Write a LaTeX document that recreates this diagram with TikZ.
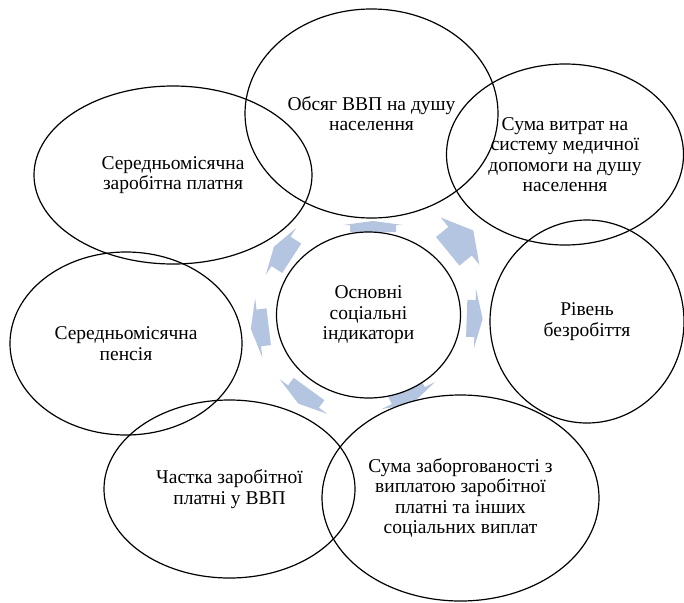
\documentclass[tikz,border=0pt]{standalone}
\usepackage{fontspec}
\setmainfont{Liberation Serif}
\usetikzlibrary{shapes.geometric}
\usetikzlibrary{calc}
\pgfdeclarelayer{background}
\pgfsetlayers{background,main}
\definecolor{arrowblue}{RGB}{180,197,225}
\tikzset{
	bubble/.style={ellipse, draw, line width=1.2pt, inner sep=0pt, outer sep=0pt,
		align=center, font=\fontsize{19.5}{20.4}\selectfont},
	arrowfill/.style={fill=arrowblue}
}
\newcommand{\drawblockarrow}[7]{   % -- x, y, angle, shaft length, shaft width, head length, head width
	\fill[arrowfill, shift={(#1,#2)}, rotate=#3]
		(0,{-#5/2}) -- (#4,{-#5/2}) -- (#4,{-#7/2}) -- ({#4+#6},0)
		-- (#4,{#7/2}) -- (#4,{#5/2}) -- (0,{#5/2}) -- cycle;
}
\newcommand{\fillbubble}[1]{   % -- node name
	\fill[white] let \p0=(#1.center), \p1=(#1.east), \p2=(#1.north) in
		(\p0) ellipse ({\x1-\x0} and {\y2-\y0});
}
\begin{document}
\begin{tikzpicture}[x=1pt, y=-1pt]
\useasboundingbox (0,0) rectangle (684,602);

\node[bubble, minimum width=253pt, minimum height=209pt] (gdp) at (371.5,113.5) {Обсяг ВВП на душу\\населення};
\node[bubble, minimum width=237pt, minimum height=181pt] (health) at (565,154.5) {Сума витрат на\\систему медичної\\допомоги на душу\\населення};
\node[bubble, minimum width=194pt, minimum height=203pt] (unemployment) at (587,321.5) {Рівень\\безробіття};
\node[bubble, minimum width=277pt, minimum height=206pt] (arrears) at (460.5,498) {Сума заборгованості з\\виплатою заробітної\\платні та інших\\соціальних виплат};
\node[bubble, minimum width=251pt, minimum height=178pt] (wageshare) at (229.5,489) {Частка заробітної\\платні у ВВП};
\node[bubble, minimum width=232pt, minimum height=183pt] (pension) at (126,343.5) {Середньомісячна\\пенсія};
\node[bubble, minimum width=278pt, minimum height=178pt] (wage) at (173,175) {Середньомісячна\\заробітна платня};
\node[bubble, minimum width=184pt, minimum height=166pt] (core) at (368.5,315) {Основні\\соціальні\\індикатори};

\begin{pgfonlayer}{background}
\drawblockarrow{373}{232}{90}{7}{46}{4}{60};
\drawblockarrow{447.7}{251.3}{39.3}{16}{37}{17}{61};
\drawblockarrow{466.7}{318.3}{-2}{8.3}{37}{7.7}{59};
\drawblockarrow{404.7}{388.4}{-63}{8}{37}{9}{60};
\drawblockarrow{309}{389}{234}{9.3}{38}{8.8}{59};
\drawblockarrow{268.7}{326.7}{187}{10}{37}{8}{60};
\drawblockarrow{291.7}{258.3}{147}{12.7}{35}{8.5}{56};

\foreach \b in {gdp, health, unemployment, arrears, wageshare, pension, wage, core}
	\fillbubble{\b};
\end{pgfonlayer}
\end{tikzpicture}
\end{document}
